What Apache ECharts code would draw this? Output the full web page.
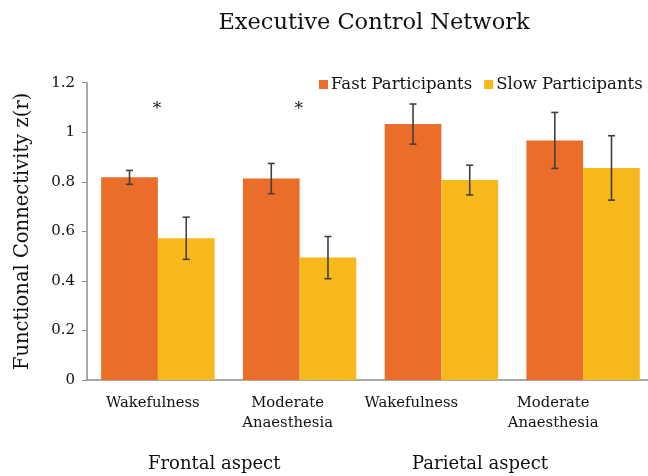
<!DOCTYPE html>
<html>
<head>
<meta charset="utf-8">
<script src="https://cdn.jsdelivr.net/npm/echarts@6/dist/echarts.min.js"></script>
<style>html,body{margin:0;padding:0;background:#fff}#c{width:648px;height:476px}</style>
</head>
<body>
<div id="c"></div>
<script>
const categories = ['Wakefulness', 'Moderate\nAnaesthesia', 'Wakefulness', 'Moderate\nAnaesthesia'];
const groupLabels = ['Frontal aspect', 'Parietal aspect'];
const seriesNames = ['Fast Participants', 'Slow Participants'];
const fastValues = [0.818, 0.813, 1.033, 0.967];
const fastErrors = [0.028, 0.061, 0.081, 0.113];
const slowValues = [0.572, 0.494, 0.807, 0.856];
const slowErrors = [0.085, 0.085, 0.060, 0.130];
const significantCategories = [0, 1];
const significanceMarkerLevel = 1.09;
const yTicks = [0, 0.2, 0.4, 0.6, 0.8, 1, 1.2];

const FONT = 'DejaVu Serif';
const labelShift = [5, 12, 30, 30];
const GAP = 0.2;

function errorSeries(idx, vals, errs) {
  return {
    type: 'custom',
    data: vals.map((v, i) => [i, v - errs[i], v + errs[i]]),
    z: 10,
    silent: true,
    renderItem: function (params, api) {
      const x = api.value(0);
      const lo = api.coord([x, api.value(1)]);
      const hi = api.coord([x, api.value(2)]);
      const band = api.size([1, 0])[0];
      const bw = band * (1 - GAP) / 2;
      const cx = lo[0] + (idx - 0.5) * bw;
      const cap = 3.5;
      const st = { stroke: '#404040', lineWidth: 1.6 };
      return {
        type: 'group',
        children: [
          { type: 'line', shape: { x1: cx, y1: hi[1], x2: cx, y2: lo[1] }, style: st },
          { type: 'line', shape: { x1: cx - cap, y1: hi[1], x2: cx + cap, y2: hi[1] }, style: st },
          { type: 'line', shape: { x1: cx - cap, y1: lo[1], x2: cx + cap, y2: lo[1] }, style: st }
        ]
      };
    }
  };
}

const chart = echarts.init(document.getElementById('c'), null, { renderer: 'canvas' });
chart.setOption({
  animation: false,
  backgroundColor: '#fff',
  textStyle: { fontFamily: FONT },
  title: {
    text: 'Executive Control Network',
    left: 369, top: 7, textAlign: 'center',
    textStyle: { fontFamily: FONT, fontWeight: 'normal', fontSize: 22.5, color: '#111' }
  },
  legend: {
    data: seriesNames,
    left: 314, top: 71,
    icon: 'rect', itemWidth: 9, itemHeight: 9, itemGap: 12,
    textStyle: { fontFamily: FONT, fontSize: 16.5, color: '#111', padding: [0, 0, 0, -2] }
  },
  grid: { left: 87, top: 82.7, width: 567, height: 297.3, containLabel: false, outerBoundsMode: 'none' },
  xAxis: {
    type: 'category',
    data: categories.map((c, i) => ({ value: c, textStyle: { padding: [0, 2 * labelShift[i], 0, 0] } })),
    axisLine: { lineStyle: { color: '#8c8c8c', width: 1.5 } },
    axisTick: { show: false },
    axisLabel: { fontFamily: FONT, fontSize: 14.8, color: '#111', margin: 13, lineHeight: 20, interval: 0 }
  },
  yAxis: {
    type: 'value', min: 0, max: 1.2, interval: 0.2,
    name: 'Functional Connectivity z(r)',
    nameLocation: 'middle', nameGap: 54, nameRotate: 90,
    nameTextStyle: { fontFamily: FONT, fontSize: 19.5, color: '#111' },
    axisLine: { show: true, lineStyle: { color: '#8c8c8c', width: 1.5 } },
    axisTick: { show: true, length: 5, lineStyle: { color: '#8c8c8c' } },
    splitLine: { show: false },
    axisLabel: {
      fontFamily: FONT, fontSize: 15, color: '#111', margin: 12,
      formatter: v => { const t = yTicks.find(k => Math.abs(k - v) < 1e-9); return t === undefined ? '' : String(t); }
    }
  },
  series: [
    {
      name: seriesNames[0], type: 'bar', data: fastValues,
      barGap: '0%', barCategoryGap: (GAP * 100) + '%',
      itemStyle: { color: '#EA6D2A' }
    },
    {
      name: seriesNames[1], type: 'bar', data: slowValues,
      barGap: '0%', barCategoryGap: (GAP * 100) + '%',
      itemStyle: { color: '#F6B81B' }
    },
    errorSeries(0, fastValues, fastErrors),
    errorSeries(1, slowValues, slowErrors),
    {
      type: 'custom', silent: true, z: 11,
      data: significantCategories.map(i => [i, significanceMarkerLevel]),
      renderItem: function (params, api) {
        const p = api.coord([api.value(0), api.value(1)]);
        return {
          type: 'text',
          style: { text: '*', x: p[0] - 1, y: p[1], align: 'center', verticalAlign: 'middle',
                   font: '17px "' + FONT + '"', fill: '#111' }
        };
      }
    }
  ],
  graphic: [
    { type: 'text', left: 148, top: 455, style: { text: groupLabels[0], font: '18px "' + FONT + '"', fill: '#111' } },
    { type: 'text', left: 412, top: 455, style: { text: groupLabels[1], font: '18px "' + FONT + '"', fill: '#111' } }
  ]
});
</script>
</body>
</html>
